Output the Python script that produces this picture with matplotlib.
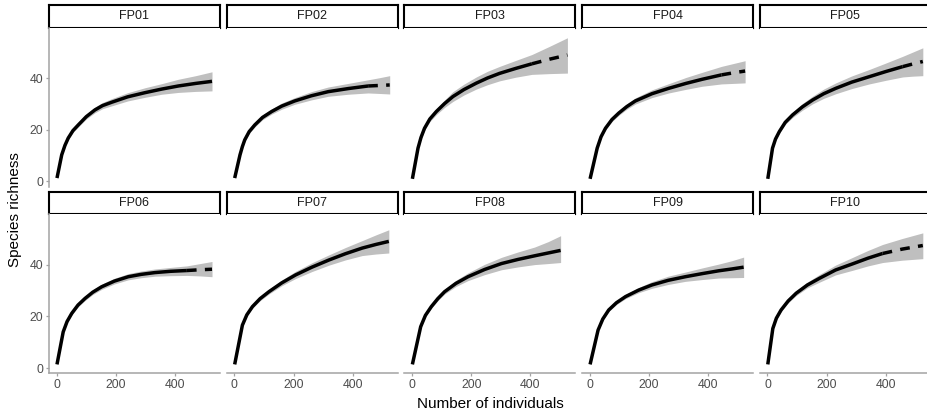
import matplotlib
matplotlib.use("Agg")
import matplotlib.pyplot as plt

plt.rcParams['font.family'] = ['Liberation Sans', 'DejaVu Sans']

# ---------------- data ----------------
sites = ["FP01", "FP02", "FP03", "FP04", "FP05",
         "FP06", "FP07", "FP08", "FP09", "FP10"]

fp01_x = [1, 17, 28, 39, 55, 73, 100, 129, 155, 186, 240, 298, 355, 411, 470, 525]
fp01_y = [1.3, 10.3, 14.0, 16.8, 19.7, 21.9, 25.1, 27.7, 29.4, 30.7, 32.8, 34.4, 35.8, 37.0, 38.0, 38.8]
fp01_lo = [1.0, 9.9, 13.5, 16.2, 19.0, 21.1, 24.2, 26.6, 28.2, 29.3, 31.2, 32.6, 33.8, 34.5, 34.9, 35.1]
fp01_hi = [1.6, 10.7, 14.5, 17.4, 20.4, 22.7, 26.0, 28.8, 30.6, 32.1, 34.4, 36.3, 37.9, 39.6, 41.0, 42.5]
fp01_n = 525

fp02_x = [1, 19, 27, 35, 50, 69, 95, 126, 160, 204, 260, 317, 385, 452, 490, 525]
fp02_y = [1.3, 10.3, 13.5, 16.1, 19.3, 21.9, 24.8, 27.1, 29.2, 31.2, 33.2, 34.8, 36.0, 37.0, 37.2, 37.4]
fp02_lo = [1.0, 9.9, 13.0, 15.5, 18.6, 21.1, 23.9, 26.1, 28.0, 29.9, 31.6, 33.0, 33.8, 34.3, 34.1, 33.9]
fp02_hi = [1.6, 10.7, 14.0, 16.7, 20.0, 22.7, 25.7, 28.1, 30.4, 32.5, 34.8, 36.6, 38.0, 39.4, 40.2, 41.0]
fp02_n = 452

fp03_x = [1, 20, 30, 42, 60, 82, 110, 138, 175, 217, 255, 296, 350, 405, 465, 525]
fp03_y = [1.0, 12.9, 17.0, 20.6, 24.2, 27.1, 30.2, 32.9, 35.6, 38.1, 40.1, 41.9, 43.8, 45.6, 47.4, 49.0]
fp03_lo = [0.8, 12.4, 16.4, 19.8, 23.2, 25.9, 28.7, 31.0, 33.5, 35.8, 37.5, 39.0, 40.4, 41.5, 41.8, 42.0]
fp03_hi = [1.2, 13.4, 17.6, 21.4, 25.2, 28.3, 31.6, 34.8, 37.7, 40.5, 42.7, 44.6, 46.9, 49.2, 52.4, 55.7]
fp03_n = 405

fp04_x = [1, 25, 38, 53, 75, 98, 125, 154, 210, 267, 325, 380, 445, 485, 525]
fp04_y = [1.0, 12.9, 17.3, 20.6, 24.0, 26.5, 29.0, 31.2, 34.0, 36.1, 38.0, 39.6, 41.3, 42.1, 42.8]
fp04_lo = [0.8, 12.5, 16.8, 20.0, 23.2, 25.6, 28.0, 30.0, 32.5, 34.3, 35.7, 36.9, 37.8, 38.0, 38.2]
fp04_hi = [1.2, 13.3, 17.8, 21.2, 24.8, 27.4, 30.0, 32.4, 35.5, 37.9, 40.3, 42.3, 44.6, 45.7, 46.8]
fp04_n = 445

fp05_x = [1, 17, 27, 40, 60, 85, 118, 153, 190, 231, 285, 344, 400, 457, 490, 525]
fp05_y = [1.0, 12.9, 16.4, 19.3, 22.9, 25.8, 28.9, 31.6, 34.0, 36.1, 38.5, 40.6, 42.6, 44.5, 45.5, 46.5]
fp05_lo = [0.8, 12.5, 15.9, 18.7, 22.1, 24.8, 27.6, 30.1, 32.2, 34.0, 36.0, 37.8, 39.2, 40.5, 40.8, 41.0]
fp05_hi = [1.2, 13.3, 16.9, 19.9, 23.7, 26.8, 30.2, 33.1, 35.8, 38.2, 40.9, 43.4, 45.9, 48.5, 50.1, 51.8]
fp05_n = 457

fp06_x = [1, 22, 35, 51, 72, 96, 122, 152, 195, 242, 285, 332, 385, 440, 485, 525]
fp06_y = [1.4, 14.0, 18.0, 21.2, 24.4, 27.0, 29.4, 31.5, 33.7, 35.4, 36.3, 37.0, 37.5, 37.8, 38.1, 38.3]
fp06_lo = [1.2, 13.6, 17.5, 20.6, 23.7, 26.2, 28.5, 30.5, 32.6, 34.2, 35.0, 35.6, 35.8, 35.9, 35.7, 35.4]
fp06_hi = [1.6, 14.4, 18.5, 21.8, 25.1, 27.8, 30.3, 32.5, 34.8, 36.6, 37.6, 38.4, 39.0, 39.6, 40.5, 41.3]
fp06_n = 440

fp07_x = [1, 27, 42, 61, 87, 117, 160, 207, 262, 320, 375, 432, 478, 522]
fp07_y = [1.4, 16.6, 20.6, 23.8, 26.9, 29.6, 33.0, 36.1, 39.1, 41.9, 44.3, 46.5, 47.9, 49.1]
fp07_lo = [1.2, 16.2, 20.1, 23.2, 26.1, 28.7, 31.9, 34.7, 37.4, 39.9, 41.9, 43.6, 44.2, 44.6]
fp07_hi = [1.6, 17.0, 21.1, 24.4, 27.7, 30.5, 34.1, 37.5, 40.8, 43.9, 46.7, 49.4, 51.6, 53.6]
fp07_n = 522

fp08_x = [1, 29, 45, 65, 87, 110, 148, 189, 245, 302, 358, 414, 460, 502]
fp08_y = [1.4, 16.0, 20.4, 23.8, 26.9, 29.6, 32.8, 35.4, 38.2, 40.5, 42.1, 43.5, 44.6, 45.6]
fp08_lo = [1.2, 15.6, 19.9, 23.2, 26.1, 28.7, 31.6, 33.9, 36.2, 38.1, 39.2, 40.1, 40.5, 40.9]
fp08_hi = [1.6, 16.4, 20.9, 24.4, 27.7, 30.5, 34.0, 36.9, 40.2, 42.9, 45.0, 46.9, 49.0, 51.3]
fp08_n = 502

fp09_x = [1, 28, 44, 64, 90, 121, 165, 210, 265, 323, 380, 436, 480, 520]
fp09_y = [1.4, 14.7, 19.0, 22.5, 25.3, 27.7, 30.2, 32.2, 34.0, 35.4, 36.6, 37.7, 38.4, 39.1]
fp09_lo = [1.2, 14.3, 18.5, 21.9, 24.6, 26.9, 29.2, 30.9, 32.4, 33.6, 34.3, 34.9, 35.0, 35.1]
fp09_hi = [1.6, 15.1, 19.5, 23.1, 26.0, 28.5, 31.2, 33.5, 35.6, 37.2, 38.8, 40.3, 41.6, 43.0]
fp09_n = 520

fp10_x = [1, 18, 30, 46, 70, 97, 135, 176, 230, 288, 340, 389, 455, 525]
fp10_y = [1.4, 15.3, 19.3, 22.5, 26.0, 29.0, 32.2, 34.8, 38.0, 40.4, 42.6, 44.4, 46.1, 47.5]
fp10_lo = [1.2, 14.9, 18.8, 21.9, 25.3, 28.1, 31.1, 33.3, 36.1, 37.9, 39.6, 40.9, 41.8, 42.4]
fp10_hi = [1.6, 15.7, 19.8, 23.1, 26.7, 29.9, 33.3, 36.3, 39.9, 42.9, 45.6, 47.9, 50.2, 52.4]
fp10_n = 389

xticks = [0, 200, 400]
yticks = [0, 20, 40]
xlabel = "Number of individuals"
ylabel = "Species richness"

series = [
    (fp01_x, fp01_y, fp01_lo, fp01_hi, fp01_n),
    (fp02_x, fp02_y, fp02_lo, fp02_hi, fp02_n),
    (fp03_x, fp03_y, fp03_lo, fp03_hi, fp03_n),
    (fp04_x, fp04_y, fp04_lo, fp04_hi, fp04_n),
    (fp05_x, fp05_y, fp05_lo, fp05_hi, fp05_n),
    (fp06_x, fp06_y, fp06_lo, fp06_hi, fp06_n),
    (fp07_x, fp07_y, fp07_lo, fp07_hi, fp07_n),
    (fp08_x, fp08_y, fp08_lo, fp08_hi, fp08_n),
    (fp09_x, fp09_y, fp09_lo, fp09_hi, fp09_n),
    (fp10_x, fp10_y, fp10_lo, fp10_hi, fp10_n),
]

# ---------------- layout ----------------
W, H = 928, 417
fig = plt.figure(figsize=(W / 100, H / 100), dpi=100)
fig.patch.set_facecolor("white")


def rect(left, top, width, height):
    return [left / W, 1 - (top + height) / H, width / W, height / H]


col_left = [49 + 177.7 * i for i in range(5)]
panel_w = 171
row_strip_top = [5, 191.6]
strip_h = 22.7
row_panel_top = [27.7, 214.3]
panel_h = 159.0

axis_col = "#a3a3a3"
tick_lab_col = "#4d4d4d"

for k, (name, (xs, ys, lo, hi, n)) in enumerate(zip(sites, series)):
    r, c = divmod(k, 5)
    # strip
    sax = fig.add_axes(rect(col_left[c], row_strip_top[r], panel_w, strip_h))
    sax.set_xticks([])
    sax.set_yticks([])
    for s in sax.spines.values():
        s.set_color("black")
        s.set_linewidth(1.5)
    sax.text(0.5, 0.5, name, ha="center", va="center", fontsize=9,
             color="#1a1a1a", transform=sax.transAxes)

    # panel
    ax = fig.add_axes(rect(col_left[c], row_panel_top[r], panel_w, panel_h))
    ax.fill_between(xs, lo, hi, color="#bfbfbf", lw=0)
    i = xs.index(n)
    ax.plot(xs[:i + 1], ys[:i + 1], color="black", lw=2.5,
            solid_capstyle="butt", solid_joinstyle="round")
    if i < len(xs) - 1:
        ax.plot(xs[i:], ys[i:], color="black", lw=2.5,
                linestyle=(0, (2.8, 2.4)), dash_capstyle="butt")
    ax.set_xlim(-26, 552)
    ax.set_ylim(-2.05, 59.6)
    ax.set_xticks(xticks)
    ax.set_yticks(yticks)
    for side in ("top", "right"):
        ax.spines[side].set_visible(False)
    ax.spines["left"].set_color(axis_col)
    ax.spines["bottom"].set_color(axis_col)
    ax.spines["left"].set_linewidth(1.1)
    ax.spines["bottom"].set_linewidth(1.1)
    ax.tick_params(colors=axis_col, labelcolor=tick_lab_col, labelsize=8.8,
                   length=2.5, width=0.9, pad=1.5)
    if c != 0:
        ax.spines["left"].set_visible(False)
        ax.tick_params(axis="y", left=False, labelleft=False)
    if r != 1:
        ax.spines["bottom"].set_visible(False)
        ax.tick_params(axis="x", bottom=False, labelbottom=False)

fig.text(490 / W, 1 - 404 / H, xlabel, ha="center", va="center",
         fontsize=11, color="black")
fig.text(15 / W, 1 - 210 / H, ylabel, ha="center", va="center",
         fontsize=11, color="black", rotation=90)

fig.savefig("out.png", dpi=100, facecolor="white")
